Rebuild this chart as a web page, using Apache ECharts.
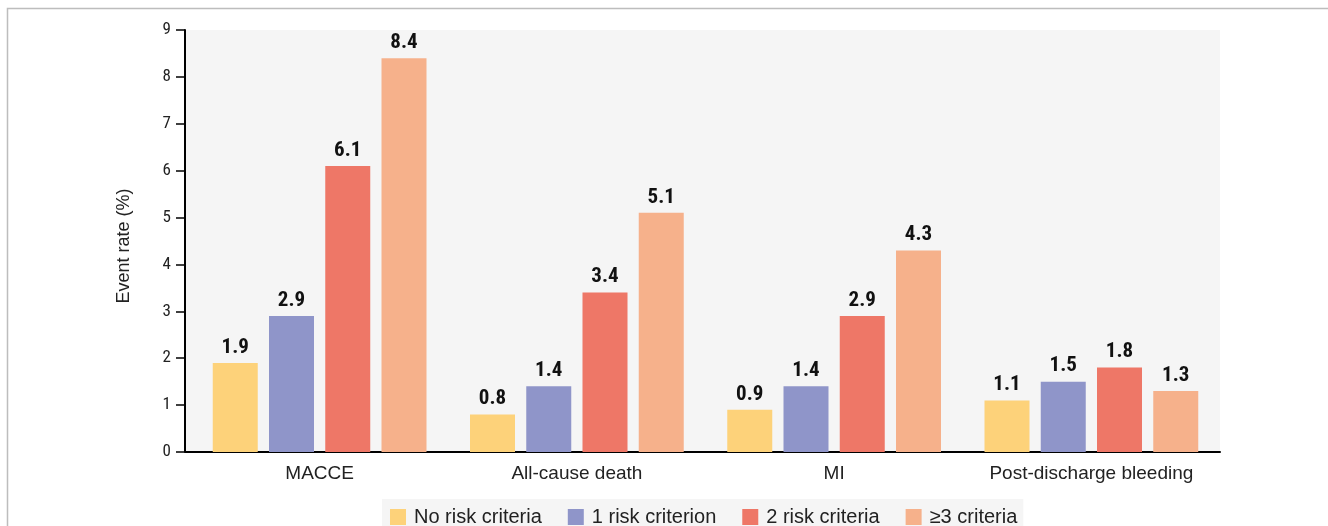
<!DOCTYPE html>
<html>
<head>
<meta charset="utf-8">
<script src="https://cdn.jsdelivr.net/npm/echarts@6/dist/echarts.min.js"></script>
<style>
  html, body { margin: 0; padding: 0; background: #fff; }
  #chart { width: 1328px; height: 526px; }
</style>
</head>
<body>
<div id="chart"></div>
<script>
// Outcome categories along the x axis
const categories = ['MACCE', 'All-cause death', 'MI', 'Post-discharge bleeding'];

// Event rates (%) per number of risk criteria
const noRisk    = [1.9, 0.8, 0.9, 1.1];
const oneRisk   = [2.9, 1.4, 1.4, 1.5];
const twoRisk   = [6.1, 3.4, 2.9, 1.8];
const threePlus = [8.4, 5.1, 4.3, 1.3];

const seriesNames = ['No risk criteria', '1 risk criterion', '2 risk criteria', '\u22653 criteria'];
const seriesData = [noRisk, oneRisk, twoRisk, threePlus];
const colors = ['#FDD27A', '#8F95C9', '#EE7767', '#F6B18B'];

// Roboto with a condensed width for numbers, a plain sans for words
const narrow = 'Roboto, sans-serif';
const plain = '"Liberation Sans", Arial, sans-serif';

// Plot frame: the value axis sits a few pixels left of where the categories begin
const plotLeft = 185, plotRight = 1220, plotTop = 30, plotBottom = 452;
const axisInset = 6;

const chart = echarts.init(document.getElementById('chart'), null, { renderer: 'canvas' });

chart.setOption({
  animation: false,
  backgroundColor: '#fff',
  graphic: [
    {
      type: 'rect', left: 5, top: 6,
      shape: { width: 1400, height: 600 },
      style: { fill: 'none', stroke: '#bdbdbd', lineWidth: 1.5 },
      silent: true, z: -10
    },
    {
      // shaded plot background
      type: 'rect',
      shape: { x: plotLeft, y: plotTop, width: plotRight - plotLeft, height: plotBottom - plotTop },
      style: { fill: '#f5f5f5' },
      silent: true, z: -5
    },
    {
      // baseline continues to the value axis
      type: 'line',
      shape: { x1: plotLeft, y1: plotBottom, x2: plotLeft + axisInset + 1, y2: plotBottom },
      style: { stroke: '#000', lineWidth: 2 },
      silent: true, z: 5
    }
  ],
  grid: {
    left: plotLeft + axisInset, right: 1328 - plotRight, top: plotTop, bottom: 526 - plotBottom,
    show: false
  },
  legend: {
    left: 382,
    top: 499,
    data: seriesNames,
    itemWidth: 16, itemHeight: 16, itemGap: 26,
    backgroundColor: '#f5f5f5',
    padding: [8, 6, 12, 8],
    icon: 'rect',
    textStyle: { fontFamily: plain, fontSize: 20, color: '#222', padding: [0, 0, 0, 3] }
  },
  xAxis: {
    type: 'category',
    data: categories,
    axisLine: { lineStyle: { color: '#000', width: 2 } },
    axisTick: { show: false },
    axisLabel: { interval: 0, fontFamily: plain, fontSize: 19, color: '#222', margin: 12 }
  },
  yAxis: {
    type: 'value',
    min: 0, max: 9, interval: 1,
    offset: axisInset,
    name: 'Event rate (%)',
    nameLocation: 'middle',
    nameGap: 52,
    nameTextStyle: { fontFamily: plain, fontSize: 18, color: '#222', padding: [0, 10, 0, 0] },
    axisLine: { show: true, lineStyle: { color: '#000', width: 2 } },
    axisTick: { show: true, length: 9, lineStyle: { color: '#000', width: 1.5 } },
    splitLine: { show: false },
    axisLabel: { fontFamily: narrow, fontWeight: 'normal condensed', fontSize: 17, color: '#222', margin: 14 }
  },
  series: seriesData.map((d, i) => ({
    name: seriesNames[i],
    type: 'bar',
    data: d,
    barWidth: 45,
    barGap: '25%',
    itemStyle: { color: colors[i] },
    label: {
      show: true,
      position: 'top',
      distance: 5,
      fontFamily: narrow,
      fontWeight: 'bold condensed',
      fontSize: 21,
      color: '#111',
      formatter: p => p.value.toFixed(1)
    }
  }))
});
</script>
</body>
</html>
